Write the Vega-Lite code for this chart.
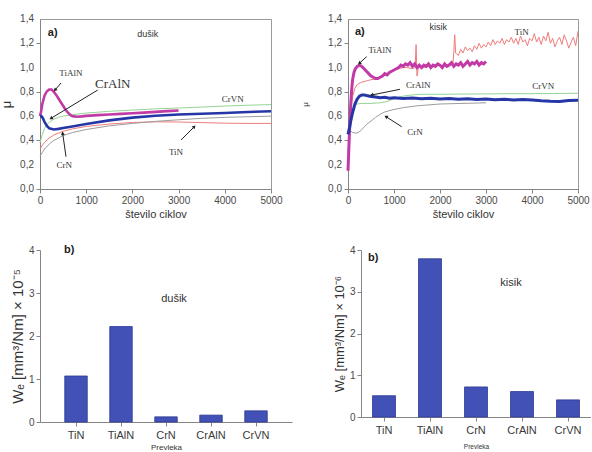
{
  "$schema": "https://vega.github.io/schema/vega-lite/v6.json",
  "background": "white",
  "padding": {"left": 0, "top": 13, "right": 0, "bottom": 0},
  "config": {
    "font": "Liberation Sans",
    "view": {"stroke": null},
    "axis": {
      "grid": false,
      "labelColor": "#4a4a4a",
      "titleColor": "#333333",
      "domainColor": "#858585",
      "tickColor": "#858585",
      "labelFontSize": 10,
      "titleFontWeight": "normal",
      "labelFlush": false
    }
  },
  "datasets": {
    "muTicks": [
      {"mu": 0, "label": "0,0"},
      {"mu": 0.2, "label": "0,2"},
      {"mu": 0.4, "label": "0,4"},
      {"mu": 0.6, "label": "0,6"},
      {"mu": 0.8, "label": "0,8"},
      {"mu": 1.0, "label": "1,0"},
      {"mu": 1.2, "label": "1,2"},
      {"mu": 1.4, "label": "1,4"}
    ],
    "n2": [
      {"coating": "TiAlN", "cycles": 0, "mu": 0.6},
      {"coating": "TiAlN", "cycles": 25, "mu": 0.64},
      {"coating": "TiAlN", "cycles": 50, "mu": 0.7},
      {"coating": "TiAlN", "cycles": 100, "mu": 0.77},
      {"coating": "TiAlN", "cycles": 150, "mu": 0.805},
      {"coating": "TiAlN", "cycles": 200, "mu": 0.82},
      {"coating": "TiAlN", "cycles": 250, "mu": 0.82},
      {"coating": "TiAlN", "cycles": 300, "mu": 0.8},
      {"coating": "TiAlN", "cycles": 350, "mu": 0.775},
      {"coating": "TiAlN", "cycles": 400, "mu": 0.745},
      {"coating": "TiAlN", "cycles": 450, "mu": 0.715},
      {"coating": "TiAlN", "cycles": 500, "mu": 0.685},
      {"coating": "TiAlN", "cycles": 550, "mu": 0.655},
      {"coating": "TiAlN", "cycles": 600, "mu": 0.63},
      {"coating": "TiAlN", "cycles": 650, "mu": 0.612},
      {"coating": "TiAlN", "cycles": 700, "mu": 0.6},
      {"coating": "TiAlN", "cycles": 800, "mu": 0.595},
      {"coating": "TiAlN", "cycles": 900, "mu": 0.598},
      {"coating": "TiAlN", "cycles": 1000, "mu": 0.602},
      {"coating": "TiAlN", "cycles": 1250, "mu": 0.608},
      {"coating": "TiAlN", "cycles": 1500, "mu": 0.614},
      {"coating": "TiAlN", "cycles": 1750, "mu": 0.619},
      {"coating": "TiAlN", "cycles": 2000, "mu": 0.624},
      {"coating": "TiAlN", "cycles": 2250, "mu": 0.629},
      {"coating": "TiAlN", "cycles": 2500, "mu": 0.635},
      {"coating": "TiAlN", "cycles": 2750, "mu": 0.641},
      {"coating": "TiAlN", "cycles": 3000, "mu": 0.647},
      {"coating": "CrAlN", "cycles": 0, "mu": 0.6},
      {"coating": "CrAlN", "cycles": 30, "mu": 0.6},
      {"coating": "CrAlN", "cycles": 60, "mu": 0.585},
      {"coating": "CrAlN", "cycles": 100, "mu": 0.55},
      {"coating": "CrAlN", "cycles": 150, "mu": 0.52},
      {"coating": "CrAlN", "cycles": 200, "mu": 0.5},
      {"coating": "CrAlN", "cycles": 300, "mu": 0.49},
      {"coating": "CrAlN", "cycles": 400, "mu": 0.495},
      {"coating": "CrAlN", "cycles": 500, "mu": 0.503},
      {"coating": "CrAlN", "cycles": 700, "mu": 0.515},
      {"coating": "CrAlN", "cycles": 1000, "mu": 0.535},
      {"coating": "CrAlN", "cycles": 1500, "mu": 0.565},
      {"coating": "CrAlN", "cycles": 2000, "mu": 0.588},
      {"coating": "CrAlN", "cycles": 2500, "mu": 0.603},
      {"coating": "CrAlN", "cycles": 3000, "mu": 0.613},
      {"coating": "CrAlN", "cycles": 3500, "mu": 0.62},
      {"coating": "CrAlN", "cycles": 4000, "mu": 0.626},
      {"coating": "CrAlN", "cycles": 4500, "mu": 0.634},
      {"coating": "CrAlN", "cycles": 5000, "mu": 0.64},
      {"coating": "CrVN", "cycles": 0, "mu": 0.38},
      {"coating": "CrVN", "cycles": 50, "mu": 0.45},
      {"coating": "CrVN", "cycles": 100, "mu": 0.5},
      {"coating": "CrVN", "cycles": 150, "mu": 0.53},
      {"coating": "CrVN", "cycles": 200, "mu": 0.55},
      {"coating": "CrVN", "cycles": 300, "mu": 0.575},
      {"coating": "CrVN", "cycles": 400, "mu": 0.59},
      {"coating": "CrVN", "cycles": 500, "mu": 0.6},
      {"coating": "CrVN", "cycles": 700, "mu": 0.612},
      {"coating": "CrVN", "cycles": 1000, "mu": 0.625},
      {"coating": "CrVN", "cycles": 1500, "mu": 0.64},
      {"coating": "CrVN", "cycles": 2000, "mu": 0.65},
      {"coating": "CrVN", "cycles": 2500, "mu": 0.66},
      {"coating": "CrVN", "cycles": 3000, "mu": 0.667},
      {"coating": "CrVN", "cycles": 3500, "mu": 0.675},
      {"coating": "CrVN", "cycles": 4000, "mu": 0.683},
      {"coating": "CrVN", "cycles": 4500, "mu": 0.69},
      {"coating": "CrVN", "cycles": 5000, "mu": 0.695},
      {"coating": "TiN", "cycles": 0, "mu": 0.33},
      {"coating": "TiN", "cycles": 50, "mu": 0.36},
      {"coating": "TiN", "cycles": 100, "mu": 0.385},
      {"coating": "TiN", "cycles": 200, "mu": 0.42},
      {"coating": "TiN", "cycles": 300, "mu": 0.445},
      {"coating": "TiN", "cycles": 500, "mu": 0.475},
      {"coating": "TiN", "cycles": 700, "mu": 0.495},
      {"coating": "TiN", "cycles": 1000, "mu": 0.515},
      {"coating": "TiN", "cycles": 1500, "mu": 0.535},
      {"coating": "TiN", "cycles": 2000, "mu": 0.548},
      {"coating": "TiN", "cycles": 2500, "mu": 0.553},
      {"coating": "TiN", "cycles": 3000, "mu": 0.552},
      {"coating": "TiN", "cycles": 3500, "mu": 0.547},
      {"coating": "TiN", "cycles": 4000, "mu": 0.542},
      {"coating": "TiN", "cycles": 4500, "mu": 0.54},
      {"coating": "TiN", "cycles": 5000, "mu": 0.54},
      {"coating": "CrN", "cycles": 0, "mu": 0.27},
      {"coating": "CrN", "cycles": 50, "mu": 0.3},
      {"coating": "CrN", "cycles": 100, "mu": 0.33},
      {"coating": "CrN", "cycles": 200, "mu": 0.37},
      {"coating": "CrN", "cycles": 300, "mu": 0.4},
      {"coating": "CrN", "cycles": 500, "mu": 0.44},
      {"coating": "CrN", "cycles": 700, "mu": 0.465},
      {"coating": "CrN", "cycles": 1000, "mu": 0.49},
      {"coating": "CrN", "cycles": 1500, "mu": 0.52},
      {"coating": "CrN", "cycles": 2000, "mu": 0.54},
      {"coating": "CrN", "cycles": 2500, "mu": 0.557},
      {"coating": "CrN", "cycles": 3000, "mu": 0.57},
      {"coating": "CrN", "cycles": 3500, "mu": 0.582},
      {"coating": "CrN", "cycles": 4000, "mu": 0.59},
      {"coating": "CrN", "cycles": 4500, "mu": 0.595},
      {"coating": "CrN", "cycles": 5000, "mu": 0.6}
    ],
    "o2": [
      {"coating": "TiN", "cycles": 0, "mu": 0.3},
      {"coating": "TiN", "cycles": 30, "mu": 0.5},
      {"coating": "TiN", "cycles": 60, "mu": 0.65},
      {"coating": "TiN", "cycles": 100, "mu": 0.76},
      {"coating": "TiN", "cycles": 150, "mu": 0.83},
      {"coating": "TiN", "cycles": 200, "mu": 0.86},
      {"coating": "TiN", "cycles": 300, "mu": 0.88},
      {"coating": "TiN", "cycles": 400, "mu": 0.89},
      {"coating": "TiN", "cycles": 500, "mu": 0.9},
      {"coating": "TiN", "cycles": 600, "mu": 0.905},
      {"coating": "TiN", "cycles": 700, "mu": 0.92},
      {"coating": "TiN", "cycles": 800, "mu": 0.94},
      {"coating": "TiN", "cycles": 900, "mu": 0.96},
      {"coating": "TiN", "cycles": 1000, "mu": 0.98},
      {"coating": "TiN", "cycles": 1100, "mu": 0.99},
      {"coating": "TiN", "cycles": 1200, "mu": 1.0},
      {"coating": "TiN", "cycles": 1300, "mu": 1.0},
      {"coating": "TiN", "cycles": 1400, "mu": 0.99},
      {"coating": "TiN", "cycles": 1460, "mu": 1.0},
      {"coating": "TiN", "cycles": 1480, "mu": 1.19},
      {"coating": "TiN", "cycles": 1500, "mu": 0.93},
      {"coating": "TiN", "cycles": 1530, "mu": 1.0},
      {"coating": "TiN", "cycles": 1600, "mu": 1.01},
      {"coating": "TiN", "cycles": 1700, "mu": 1.0},
      {"coating": "TiN", "cycles": 1800, "mu": 1.02},
      {"coating": "TiN", "cycles": 1900, "mu": 1.01},
      {"coating": "TiN", "cycles": 2000, "mu": 1.02},
      {"coating": "TiN", "cycles": 2100, "mu": 1.01},
      {"coating": "TiN", "cycles": 2200, "mu": 1.03},
      {"coating": "TiN", "cycles": 2280, "mu": 1.02},
      {"coating": "TiN", "cycles": 2300, "mu": 1.13},
      {"coating": "TiN", "cycles": 2320, "mu": 1.27},
      {"coating": "TiN", "cycles": 2340, "mu": 1.12},
      {"coating": "TiN", "cycles": 2400, "mu": 1.1},
      {"coating": "TiN", "cycles": 2450, "mu": 1.15},
      {"coating": "TiN", "cycles": 2500, "mu": 1.12},
      {"coating": "TiN", "cycles": 2550, "mu": 1.17},
      {"coating": "TiN", "cycles": 2600, "mu": 1.14},
      {"coating": "TiN", "cycles": 2650, "mu": 1.16},
      {"coating": "TiN", "cycles": 2700, "mu": 1.13},
      {"coating": "TiN", "cycles": 2750, "mu": 1.18},
      {"coating": "TiN", "cycles": 2800, "mu": 1.15},
      {"coating": "TiN", "cycles": 2850, "mu": 1.2},
      {"coating": "TiN", "cycles": 2900, "mu": 1.16},
      {"coating": "TiN", "cycles": 2950, "mu": 1.19},
      {"coating": "TiN", "cycles": 3000, "mu": 1.17},
      {"coating": "TiN", "cycles": 3050, "mu": 1.21},
      {"coating": "TiN", "cycles": 3100, "mu": 1.18},
      {"coating": "TiN", "cycles": 3150, "mu": 1.23},
      {"coating": "TiN", "cycles": 3200, "mu": 1.19},
      {"coating": "TiN", "cycles": 3250, "mu": 1.22},
      {"coating": "TiN", "cycles": 3300, "mu": 1.2},
      {"coating": "TiN", "cycles": 3350, "mu": 1.24},
      {"coating": "TiN", "cycles": 3400, "mu": 1.19},
      {"coating": "TiN", "cycles": 3450, "mu": 1.23},
      {"coating": "TiN", "cycles": 3500, "mu": 1.21},
      {"coating": "TiN", "cycles": 3550, "mu": 1.25},
      {"coating": "TiN", "cycles": 3600, "mu": 1.2},
      {"coating": "TiN", "cycles": 3650, "mu": 1.24},
      {"coating": "TiN", "cycles": 3700, "mu": 1.19},
      {"coating": "TiN", "cycles": 3750, "mu": 1.26},
      {"coating": "TiN", "cycles": 3800, "mu": 1.21},
      {"coating": "TiN", "cycles": 3850, "mu": 1.23},
      {"coating": "TiN", "cycles": 3900, "mu": 1.18},
      {"coating": "TiN", "cycles": 3950, "mu": 1.24},
      {"coating": "TiN", "cycles": 4000, "mu": 1.22},
      {"coating": "TiN", "cycles": 4050, "mu": 1.28},
      {"coating": "TiN", "cycles": 4100, "mu": 1.21},
      {"coating": "TiN", "cycles": 4150, "mu": 1.25},
      {"coating": "TiN", "cycles": 4200, "mu": 1.19},
      {"coating": "TiN", "cycles": 4250, "mu": 1.26},
      {"coating": "TiN", "cycles": 4300, "mu": 1.22},
      {"coating": "TiN", "cycles": 4350, "mu": 1.29},
      {"coating": "TiN", "cycles": 4400, "mu": 1.2},
      {"coating": "TiN", "cycles": 4450, "mu": 1.24},
      {"coating": "TiN", "cycles": 4500, "mu": 1.17},
      {"coating": "TiN", "cycles": 4550, "mu": 1.22},
      {"coating": "TiN", "cycles": 4600, "mu": 1.25},
      {"coating": "TiN", "cycles": 4650, "mu": 1.19},
      {"coating": "TiN", "cycles": 4700, "mu": 1.27},
      {"coating": "TiN", "cycles": 4750, "mu": 1.22},
      {"coating": "TiN", "cycles": 4800, "mu": 1.16},
      {"coating": "TiN", "cycles": 4850, "mu": 1.21},
      {"coating": "TiN", "cycles": 4900, "mu": 1.25},
      {"coating": "TiN", "cycles": 4950, "mu": 1.18},
      {"coating": "TiN", "cycles": 5000, "mu": 1.3},
      {"coating": "CrVN", "cycles": 0, "mu": 0.3},
      {"coating": "CrVN", "cycles": 40, "mu": 0.45},
      {"coating": "CrVN", "cycles": 80, "mu": 0.58},
      {"coating": "CrVN", "cycles": 120, "mu": 0.66},
      {"coating": "CrVN", "cycles": 160, "mu": 0.69},
      {"coating": "CrVN", "cycles": 200, "mu": 0.7},
      {"coating": "CrVN", "cycles": 300, "mu": 0.705},
      {"coating": "CrVN", "cycles": 500, "mu": 0.705},
      {"coating": "CrVN", "cycles": 700, "mu": 0.71},
      {"coating": "CrVN", "cycles": 850, "mu": 0.72},
      {"coating": "CrVN", "cycles": 1000, "mu": 0.745},
      {"coating": "CrVN", "cycles": 1200, "mu": 0.765},
      {"coating": "CrVN", "cycles": 1400, "mu": 0.775},
      {"coating": "CrVN", "cycles": 1600, "mu": 0.78},
      {"coating": "CrVN", "cycles": 2000, "mu": 0.78},
      {"coating": "CrVN", "cycles": 2500, "mu": 0.782},
      {"coating": "CrVN", "cycles": 3000, "mu": 0.783},
      {"coating": "CrVN", "cycles": 3500, "mu": 0.785},
      {"coating": "CrVN", "cycles": 4000, "mu": 0.785},
      {"coating": "CrVN", "cycles": 4500, "mu": 0.787},
      {"coating": "CrVN", "cycles": 5000, "mu": 0.788},
      {"coating": "CrN", "cycles": 0, "mu": 0.5},
      {"coating": "CrN", "cycles": 50, "mu": 0.48},
      {"coating": "CrN", "cycles": 100, "mu": 0.465},
      {"coating": "CrN", "cycles": 180, "mu": 0.46},
      {"coating": "CrN", "cycles": 250, "mu": 0.47},
      {"coating": "CrN", "cycles": 300, "mu": 0.49},
      {"coating": "CrN", "cycles": 400, "mu": 0.53},
      {"coating": "CrN", "cycles": 500, "mu": 0.56},
      {"coating": "CrN", "cycles": 600, "mu": 0.59},
      {"coating": "CrN", "cycles": 700, "mu": 0.615},
      {"coating": "CrN", "cycles": 800, "mu": 0.635},
      {"coating": "CrN", "cycles": 1000, "mu": 0.655},
      {"coating": "CrN", "cycles": 1200, "mu": 0.67},
      {"coating": "CrN", "cycles": 1500, "mu": 0.685},
      {"coating": "CrN", "cycles": 2000, "mu": 0.7},
      {"coating": "CrN", "cycles": 2500, "mu": 0.705},
      {"coating": "CrN", "cycles": 3000, "mu": 0.71},
      {"coating": "TiAlN", "cycles": 0, "mu": 0.15},
      {"coating": "TiAlN", "cycles": 20, "mu": 0.35},
      {"coating": "TiAlN", "cycles": 40, "mu": 0.55},
      {"coating": "TiAlN", "cycles": 60, "mu": 0.7},
      {"coating": "TiAlN", "cycles": 80, "mu": 0.82},
      {"coating": "TiAlN", "cycles": 100, "mu": 0.9},
      {"coating": "TiAlN", "cycles": 130, "mu": 0.96},
      {"coating": "TiAlN", "cycles": 160, "mu": 0.99},
      {"coating": "TiAlN", "cycles": 200, "mu": 1.01},
      {"coating": "TiAlN", "cycles": 250, "mu": 1.02},
      {"coating": "TiAlN", "cycles": 300, "mu": 1.01},
      {"coating": "TiAlN", "cycles": 350, "mu": 0.99},
      {"coating": "TiAlN", "cycles": 400, "mu": 0.97},
      {"coating": "TiAlN", "cycles": 450, "mu": 0.95},
      {"coating": "TiAlN", "cycles": 500, "mu": 0.93},
      {"coating": "TiAlN", "cycles": 550, "mu": 0.92},
      {"coating": "TiAlN", "cycles": 600, "mu": 0.91},
      {"coating": "TiAlN", "cycles": 650, "mu": 0.91},
      {"coating": "TiAlN", "cycles": 700, "mu": 0.92},
      {"coating": "TiAlN", "cycles": 750, "mu": 0.93},
      {"coating": "TiAlN", "cycles": 800, "mu": 0.95},
      {"coating": "TiAlN", "cycles": 850, "mu": 0.94},
      {"coating": "TiAlN", "cycles": 900, "mu": 0.96},
      {"coating": "TiAlN", "cycles": 950, "mu": 0.97},
      {"coating": "TiAlN", "cycles": 1000, "mu": 0.98},
      {"coating": "TiAlN", "cycles": 1050, "mu": 0.99},
      {"coating": "TiAlN", "cycles": 1100, "mu": 1.0},
      {"coating": "TiAlN", "cycles": 1150, "mu": 1.02},
      {"coating": "TiAlN", "cycles": 1200, "mu": 1.01},
      {"coating": "TiAlN", "cycles": 1250, "mu": 1.03},
      {"coating": "TiAlN", "cycles": 1300, "mu": 1.02},
      {"coating": "TiAlN", "cycles": 1350, "mu": 1.04},
      {"coating": "TiAlN", "cycles": 1400, "mu": 1.01},
      {"coating": "TiAlN", "cycles": 1450, "mu": 1.03},
      {"coating": "TiAlN", "cycles": 1500, "mu": 1.0},
      {"coating": "TiAlN", "cycles": 1550, "mu": 1.02},
      {"coating": "TiAlN", "cycles": 1600, "mu": 1.0},
      {"coating": "TiAlN", "cycles": 1650, "mu": 1.02},
      {"coating": "TiAlN", "cycles": 1700, "mu": 1.01},
      {"coating": "TiAlN", "cycles": 1750, "mu": 1.03},
      {"coating": "TiAlN", "cycles": 1800, "mu": 1.0},
      {"coating": "TiAlN", "cycles": 1850, "mu": 1.02},
      {"coating": "TiAlN", "cycles": 1900, "mu": 1.01},
      {"coating": "TiAlN", "cycles": 1950, "mu": 1.03},
      {"coating": "TiAlN", "cycles": 2000, "mu": 1.02},
      {"coating": "TiAlN", "cycles": 2050, "mu": 1.0},
      {"coating": "TiAlN", "cycles": 2100, "mu": 1.03},
      {"coating": "TiAlN", "cycles": 2150, "mu": 1.01},
      {"coating": "TiAlN", "cycles": 2200, "mu": 1.02},
      {"coating": "TiAlN", "cycles": 2250, "mu": 1.04},
      {"coating": "TiAlN", "cycles": 2300, "mu": 1.01},
      {"coating": "TiAlN", "cycles": 2350, "mu": 1.03},
      {"coating": "TiAlN", "cycles": 2400, "mu": 1.02},
      {"coating": "TiAlN", "cycles": 2450, "mu": 1.04},
      {"coating": "TiAlN", "cycles": 2500, "mu": 1.01},
      {"coating": "TiAlN", "cycles": 2550, "mu": 1.03},
      {"coating": "TiAlN", "cycles": 2600, "mu": 1.05},
      {"coating": "TiAlN", "cycles": 2650, "mu": 1.02},
      {"coating": "TiAlN", "cycles": 2700, "mu": 1.04},
      {"coating": "TiAlN", "cycles": 2750, "mu": 1.03},
      {"coating": "TiAlN", "cycles": 2800, "mu": 1.05},
      {"coating": "TiAlN", "cycles": 2850, "mu": 1.02},
      {"coating": "TiAlN", "cycles": 2900, "mu": 1.04},
      {"coating": "TiAlN", "cycles": 2950, "mu": 1.03},
      {"coating": "TiAlN", "cycles": 3000, "mu": 1.05},
      {"coating": "CrAlN", "cycles": 0, "mu": 0.45},
      {"coating": "CrAlN", "cycles": 30, "mu": 0.5},
      {"coating": "CrAlN", "cycles": 60, "mu": 0.56},
      {"coating": "CrAlN", "cycles": 100, "mu": 0.63},
      {"coating": "CrAlN", "cycles": 150, "mu": 0.7},
      {"coating": "CrAlN", "cycles": 200, "mu": 0.74},
      {"coating": "CrAlN", "cycles": 250, "mu": 0.765},
      {"coating": "CrAlN", "cycles": 300, "mu": 0.775},
      {"coating": "CrAlN", "cycles": 350, "mu": 0.775},
      {"coating": "CrAlN", "cycles": 400, "mu": 0.77},
      {"coating": "CrAlN", "cycles": 500, "mu": 0.762},
      {"coating": "CrAlN", "cycles": 600, "mu": 0.757},
      {"coating": "CrAlN", "cycles": 700, "mu": 0.752},
      {"coating": "CrAlN", "cycles": 800, "mu": 0.756},
      {"coating": "CrAlN", "cycles": 900, "mu": 0.748},
      {"coating": "CrAlN", "cycles": 1000, "mu": 0.752},
      {"coating": "CrAlN", "cycles": 1200, "mu": 0.745},
      {"coating": "CrAlN", "cycles": 1400, "mu": 0.75},
      {"coating": "CrAlN", "cycles": 1600, "mu": 0.743},
      {"coating": "CrAlN", "cycles": 1800, "mu": 0.748},
      {"coating": "CrAlN", "cycles": 2000, "mu": 0.742},
      {"coating": "CrAlN", "cycles": 2200, "mu": 0.746},
      {"coating": "CrAlN", "cycles": 2400, "mu": 0.739},
      {"coating": "CrAlN", "cycles": 2600, "mu": 0.743},
      {"coating": "CrAlN", "cycles": 2800, "mu": 0.738},
      {"coating": "CrAlN", "cycles": 3000, "mu": 0.742},
      {"coating": "CrAlN", "cycles": 3200, "mu": 0.735},
      {"coating": "CrAlN", "cycles": 3400, "mu": 0.739},
      {"coating": "CrAlN", "cycles": 3600, "mu": 0.733},
      {"coating": "CrAlN", "cycles": 3800, "mu": 0.737},
      {"coating": "CrAlN", "cycles": 4000, "mu": 0.732},
      {"coating": "CrAlN", "cycles": 4200, "mu": 0.726},
      {"coating": "CrAlN", "cycles": 4400, "mu": 0.722},
      {"coating": "CrAlN", "cycles": 4600, "mu": 0.72},
      {"coating": "CrAlN", "cycles": 4800, "mu": 0.728},
      {"coating": "CrAlN", "cycles": 5000, "mu": 0.73}
    ],
    "labN2": [
      {"text": "TiAlN", "cycles": 670, "mu": 0.955},
      {"text": "CrN", "cycles": 526, "mu": 0.2},
      {"text": "TiN", "cycles": 2944, "mu": 0.307},
      {"text": "CrVN", "cycles": 4172, "mu": 0.739}
    ],
    "arrN2": [
      {"to": "TiAlN", "cycles": 455, "mu": 0.873, "cycles2": 325, "mu2": 0.815},
      {"to": "CrAlN", "cycles": 1249, "mu": 0.815, "cycles2": 238, "mu2": 0.582},
      {"to": "CrN", "cycles": 563, "mu": 0.266, "cycles2": 491, "mu2": 0.459},
      {"to": "TiN", "cycles": 3053, "mu": 0.404, "cycles2": 3340, "mu2": 0.513}
    ],
    "labO2": [
      {"text": "TiAlN", "cycles": 696, "mu": 1.145},
      {"text": "CrAlN", "cycles": 1529, "mu": 0.857},
      {"text": "CrVN", "cycles": 4246, "mu": 0.848},
      {"text": "CrN", "cycles": 1456, "mu": 0.472},
      {"text": "TiN", "cycles": 3776, "mu": 1.296}
    ],
    "arrO2": [
      {"to": "TiAlN", "cycles": 406, "mu": 1.09, "cycles2": 246, "mu2": 1.035},
      {"to": "CrAlN", "cycles": 1130, "mu": 0.821, "cycles2": 515, "mu2": 0.774},
      {"to": "CrN", "cycles": 1167, "mu": 0.513, "cycles2": 826, "mu2": 0.596}
    ],
    "wearN2": [
      {"coating": "TiN", "we": 1.07},
      {"coating": "TiAlN", "we": 2.22},
      {"coating": "CrN", "we": 0.12},
      {"coating": "CrAlN", "we": 0.16},
      {"coating": "CrVN", "we": 0.26}
    ],
    "wearO2": [
      {"coating": "TiN", "we": 0.51},
      {"coating": "TiAlN", "we": 3.79},
      {"coating": "CrN", "we": 0.72},
      {"coating": "CrAlN", "we": 0.61},
      {"coating": "CrVN", "we": 0.41}
    ]
  },
  "spacing": 24,
  "vconcat": [
    {
      "spacing": 18,
      "hconcat": [
        {
          "width": 231,
          "height": 170,
          "view": {"stroke": "#9a9a9a"},
          "layer": [
            {
              "data": {"name": "n2"},
              "transform": [{"filter": "datum.coating === 'TiN' || datum.coating === 'CrN' || datum.coating === 'CrVN'"}],
              "mark": {"type": "line", "strokeWidth": 1},
              "encoding": {
                "x": {
                  "field": "cycles", "type": "quantitative",
                  "scale": {"domain": [0, 5000], "nice": false},
                  "axis": {
                    "title": "število ciklov", "titleFontSize": 11, "titlePadding": 3,
                    "values": [0, 500, 1000, 1500, 2000, 2500, 3000, 3500, 4000, 4500, 5000],
                    "format": "d",
                    "labelOverlap": false,
                    "labelExpr": "datum.value % 1000 === 0 ? datum.label : ''",
                    "tickSize": {"condition": {"test": "datum.value % 1000 === 0", "value": 4}, "value": 2},
                    "labelPadding": 2
                  }
                },
                "y": {
                  "field": "mu", "type": "quantitative",
                  "scale": {"domain": [0, 1.4], "nice": false},
                  "axis": {
                    "title": "μ", "titleFontSize": 13, "titlePadding": 22,
                    "values": [0, 0.1, 0.2, 0.3, 0.4, 0.5, 0.6, 0.7, 0.8, 0.9, 1.0, 1.1, 1.2, 1.3, 1.4],
                    "labels": false,
                    "tickSize": {"condition": {"test": "round(datum.value * 10) % 2 === 0", "value": 4}, "value": 2}
                  }
                },
                "color": {
                  "field": "coating", "type": "nominal", "legend": null,
                  "scale": {"domain": ["TiN", "TiAlN", "CrN", "CrAlN", "CrVN"], "range": ["#f07c7c", "#c23aa6", "#9c9c9c", "#2636a6", "#94d494"]}
                }
              }
            },
            {
              "data": {"name": "n2"},
              "transform": [{"filter": "datum.coating === 'TiAlN' || datum.coating === 'CrAlN'"}],
              "mark": {"type": "line", "strokeWidth": 2.6},
              "encoding": {
                "x": {"field": "cycles", "type": "quantitative"},
                "y": {"field": "mu", "type": "quantitative"},
                "color": {"field": "coating", "type": "nominal", "legend": null}
              }
            },
            {
              "data": {"name": "muTicks"},
              "mark": {"type": "text", "align": "right", "baseline": "middle", "dx": -6, "fontSize": 10, "color": "#4a4a4a", "font": "Liberation Sans"},
              "encoding": {
                "x": {"datum": 0},
                "y": {"field": "mu", "type": "quantitative"},
                "text": {"field": "label"}
              }
            },
            {
              "data": {"name": "arrN2"},
              "mark": {"type": "rule", "color": "#222222", "strokeWidth": 1},
              "encoding": {
                "x": {"field": "cycles", "type": "quantitative"},
                "y": {"field": "mu", "type": "quantitative"},
                "x2": {"field": "cycles2"},
                "y2": {"field": "mu2"}
              }
            },
            {
              "data": {"name": "arrN2"},
              "transform": [{"filter": "datum.to === 'TiAlN'"}],
              "mark": {"type": "point", "shape": "triangle-up", "angle": 221, "size": 16, "filled": true, "color": "#222222", "opacity": 1},
              "encoding": {"x": {"field": "cycles2", "type": "quantitative"}, "y": {"field": "mu2", "type": "quantitative"}}
            },
            {
              "data": {"name": "arrN2"},
              "transform": [{"filter": "datum.to === 'CrAlN'"}],
              "mark": {"type": "point", "shape": "triangle-up", "angle": 239, "size": 16, "filled": true, "color": "#222222", "opacity": 1},
              "encoding": {"x": {"field": "cycles2", "type": "quantitative"}, "y": {"field": "mu2", "type": "quantitative"}}
            },
            {
              "data": {"name": "arrN2"},
              "transform": [{"filter": "datum.to === 'CrN'"}],
              "mark": {"type": "point", "shape": "triangle-up", "angle": 352, "size": 16, "filled": true, "color": "#222222", "opacity": 1},
              "encoding": {"x": {"field": "cycles2", "type": "quantitative"}, "y": {"field": "mu2", "type": "quantitative"}}
            },
            {
              "data": {"name": "arrN2"},
              "transform": [{"filter": "datum.to === 'TiN'"}],
              "mark": {"type": "point", "shape": "triangle-up", "angle": 45, "size": 16, "filled": true, "color": "#222222", "opacity": 1},
              "encoding": {"x": {"field": "cycles2", "type": "quantitative"}, "y": {"field": "mu2", "type": "quantitative"}}
            },
            {
              "data": {"name": "labN2"},
              "mark": {"type": "text", "font": "Liberation Serif", "fontSize": 9, "color": "#333333"},
              "encoding": {
                "x": {"field": "cycles", "type": "quantitative"},
                "y": {"field": "mu", "type": "quantitative"},
                "text": {"field": "text"}
              }
            },
            {
              "data": {"values": [{"text": "CrAlN", "cycles": 1574, "mu": 0.862}]},
              "mark": {"type": "text", "font": "Liberation Serif", "fontSize": 13, "color": "#333333"},
              "encoding": {
                "x": {"field": "cycles", "type": "quantitative"},
                "y": {"field": "mu", "type": "quantitative"},
                "text": {"field": "text"}
              }
            },
            {
              "data": {"values": [{"text": "a)", "cycles": 170, "mu": 1.285}]},
              "mark": {"type": "text", "fontSize": 11, "fontWeight": "bold", "align": "left", "color": "#222222"},
              "encoding": {"x": {"field": "cycles", "type": "quantitative"}, "y": {"field": "mu", "type": "quantitative"}, "text": {"field": "text"}}
            },
            {
              "data": {"values": [{"text": "dušik", "cycles": 2332, "mu": 1.28}]},
              "mark": {"type": "text", "fontSize": 9, "color": "#333333"},
              "encoding": {"x": {"field": "cycles", "type": "quantitative"}, "y": {"field": "mu", "type": "quantitative"}, "text": {"field": "text"}}
            }
          ]
        },
        {
          "width": 230,
          "height": 170,
          "view": {"stroke": "#9a9a9a"},
          "layer": [
            {
              "data": {"name": "o2"},
              "transform": [{"filter": "datum.coating === 'TiN' || datum.coating === 'CrN' || datum.coating === 'CrVN'"}],
              "mark": {"type": "line", "strokeWidth": 1},
              "encoding": {
                "x": {
                  "field": "cycles", "type": "quantitative",
                  "scale": {"domain": [0, 5000], "nice": false},
                  "axis": {
                    "title": "število ciklov", "titleFontSize": 11, "titlePadding": 3,
                    "values": [0, 500, 1000, 1500, 2000, 2500, 3000, 3500, 4000, 4500, 5000],
                    "format": "d",
                    "labelOverlap": false,
                    "labelExpr": "datum.value % 1000 === 0 ? datum.label : ''",
                    "tickSize": {"condition": {"test": "datum.value % 1000 === 0", "value": 4}, "value": 2},
                    "labelPadding": 2
                  }
                },
                "y": {
                  "field": "mu", "type": "quantitative",
                  "scale": {"domain": [0, 1.4], "nice": false},
                  "axis": {
                    "title": "μ", "titleFontSize": 8, "titlePadding": 34,
                    "values": [0, 0.1, 0.2, 0.3, 0.4, 0.5, 0.6, 0.7, 0.8, 0.9, 1.0, 1.1, 1.2, 1.3, 1.4],
                    "labels": false,
                    "tickSize": {"condition": {"test": "round(datum.value * 10) % 2 === 0", "value": 4}, "value": 2}
                  }
                },
                "color": {
                  "field": "coating", "type": "nominal", "legend": null,
                  "scale": {"domain": ["TiN", "TiAlN", "CrN", "CrAlN", "CrVN"], "range": ["#f05a5a", "#b83ca8", "#9c9c9c", "#2636a6", "#a6dca0"]}
                }
              }
            },
            {
              "data": {"name": "o2"},
              "transform": [{"filter": "datum.coating === 'TiAlN' || datum.coating === 'CrAlN'"}],
              "mark": {"type": "line", "strokeWidth": 3},
              "encoding": {
                "x": {"field": "cycles", "type": "quantitative"},
                "y": {"field": "mu", "type": "quantitative"},
                "color": {"field": "coating", "type": "nominal", "legend": null}
              }
            },
            {
              "data": {"name": "muTicks"},
              "mark": {"type": "text", "align": "right", "baseline": "middle", "dx": -6, "fontSize": 10, "color": "#4a4a4a", "font": "Liberation Sans"},
              "encoding": {
                "x": {"datum": 0},
                "y": {"field": "mu", "type": "quantitative"},
                "text": {"field": "label"}
              }
            },
            {
              "data": {"name": "arrO2"},
              "mark": {"type": "rule", "color": "#222222", "strokeWidth": 1},
              "encoding": {
                "x": {"field": "cycles", "type": "quantitative"},
                "y": {"field": "mu", "type": "quantitative"},
                "x2": {"field": "cycles2"},
                "y2": {"field": "mu2"}
              }
            },
            {
              "data": {"name": "arrO2"},
              "transform": [{"filter": "datum.to === 'TiAlN'"}],
              "mark": {"type": "point", "shape": "triangle-up", "angle": 228, "size": 16, "filled": true, "color": "#222222", "opacity": 1},
              "encoding": {"x": {"field": "cycles2", "type": "quantitative"}, "y": {"field": "mu2", "type": "quantitative"}}
            },
            {
              "data": {"name": "arrO2"},
              "transform": [{"filter": "datum.to === 'CrAlN'"}],
              "mark": {"type": "point", "shape": "triangle-up", "angle": 259, "size": 16, "filled": true, "color": "#222222", "opacity": 1},
              "encoding": {"x": {"field": "cycles2", "type": "quantitative"}, "y": {"field": "mu2", "type": "quantitative"}}
            },
            {
              "data": {"name": "arrO2"},
              "transform": [{"filter": "datum.to === 'CrN'"}],
              "mark": {"type": "point", "shape": "triangle-up", "angle": 302, "size": 16, "filled": true, "color": "#222222", "opacity": 1},
              "encoding": {"x": {"field": "cycles2", "type": "quantitative"}, "y": {"field": "mu2", "type": "quantitative"}}
            },
            {
              "data": {"name": "labO2"},
              "mark": {"type": "text", "font": "Liberation Serif", "fontSize": 9, "color": "#333333"},
              "encoding": {
                "x": {"field": "cycles", "type": "quantitative"},
                "y": {"field": "mu", "type": "quantitative"},
                "text": {"field": "text"}
              }
            },
            {
              "data": {"values": [{"text": "a)", "cycles": 150, "mu": 1.29}]},
              "mark": {"type": "text", "fontSize": 11, "fontWeight": "bold", "align": "left", "color": "#222222"},
              "encoding": {"x": {"field": "cycles", "type": "quantitative"}, "y": {"field": "mu", "type": "quantitative"}, "text": {"field": "text"}}
            },
            {
              "data": {"values": [{"text": "kisik", "cycles": 1960, "mu": 1.337}]},
              "mark": {"type": "text", "fontSize": 9, "color": "#333333"},
              "encoding": {"x": {"field": "cycles", "type": "quantitative"}, "y": {"field": "mu", "type": "quantitative"}, "text": {"field": "text"}}
            }
          ]
        }
      ]
    },
    {
      "spacing": 41,
      "hconcat": [
        {
          "width": 252,
          "height": 172,
          "layer": [
            {
              "data": {"name": "wearN2"},
              "mark": {"type": "bar", "color": "#4151b6", "stroke": "#2d3b94", "strokeWidth": 0.8},
              "encoding": {
                "x": {
                  "field": "coating", "type": "nominal",
                  "scale": {"domain": ["TiN", "TiAlN", "CrN", "CrAlN", "CrVN"], "paddingInner": 0.5, "paddingOuter": 0.55},
                  "axis": {"title": "Prevleka", "titleFontSize": 8, "titlePadding": 3, "labelAngle": 0, "labelFontSize": 11, "labelColor": "#3a3a3a", "tickSize": 4, "labelPadding": 3}
                },
                "y": {
                  "field": "we", "type": "quantitative",
                  "scale": {"domain": [0, 4], "nice": false},
                  "axis": {
                    "title": "Wₑ [mm³/Nm] × 10⁻⁵", "titleFontSize": 15, "titlePadding": 3,
                    "values": [0, 1, 2, 3, 4],
                    "format": "d",
                    "labelOverlap": false,
                    "tickSize": 4,
                    "labelPadding": 2
                  }
                }
              }
            },
            {
              "data": {"values": [{"text": "b)", "coating": "TiN", "we": 4}]},
              "mark": {"type": "text", "fontSize": 11, "fontWeight": "bold", "align": "left", "dx": -12, "color": "#222222"},
              "encoding": {"x": {"field": "coating", "type": "nominal"}, "y": {"field": "we", "type": "quantitative"}, "text": {"field": "text"}}
            },
            {
              "data": {"values": [{"text": "dušik", "coating": "CrN", "we": 2.85}]},
              "mark": {"type": "text", "fontSize": 11, "dx": 8, "color": "#333333"},
              "encoding": {"x": {"field": "coating", "type": "nominal"}, "y": {"field": "we", "type": "quantitative"}, "text": {"field": "text"}}
            }
          ]
        },
        {
          "width": 230,
          "height": 167,
          "layer": [
            {
              "data": {"name": "wearO2"},
              "mark": {"type": "bar", "color": "#4151b6", "stroke": "#2d3b94", "strokeWidth": 0.8},
              "encoding": {
                "x": {
                  "field": "coating", "type": "nominal",
                  "scale": {"domain": ["TiN", "TiAlN", "CrN", "CrAlN", "CrVN"], "paddingInner": 0.5, "paddingOuter": 0.25},
                  "axis": {"title": "Prevleka", "titleFontSize": 6.5, "titlePadding": 8, "labelAngle": 0, "labelFontSize": 11, "labelColor": "#3a3a3a", "tickSize": 4, "labelPadding": 3}
                },
                "y": {
                  "field": "we", "type": "quantitative",
                  "scale": {"domain": [0, 4], "nice": false},
                  "axis": {
                    "title": "Wₑ [mm³/Nm] × 10⁻⁶", "titleFontSize": 13, "titlePadding": 3,
                    "values": [0, 1, 2, 3, 4],
                    "format": "d",
                    "labelOverlap": false,
                    "tickSize": 4,
                    "labelPadding": 2
                  }
                }
              }
            },
            {
              "data": {"values": [{"text": "b)", "coating": "TiN", "we": 3.81}]},
              "mark": {"type": "text", "fontSize": 11, "fontWeight": "bold", "align": "left", "dx": -16, "color": "#222222"},
              "encoding": {"x": {"field": "coating", "type": "nominal"}, "y": {"field": "we", "type": "quantitative"}, "text": {"field": "text"}}
            },
            {
              "data": {"values": [{"text": "kisik", "coating": "CrAlN", "we": 3.22}]},
              "mark": {"type": "text", "fontSize": 11, "dx": -11, "color": "#333333"},
              "encoding": {"x": {"field": "coating", "type": "nominal"}, "y": {"field": "we", "type": "quantitative"}, "text": {"field": "text"}}
            }
          ]
        }
      ]
    }
  ]
}
